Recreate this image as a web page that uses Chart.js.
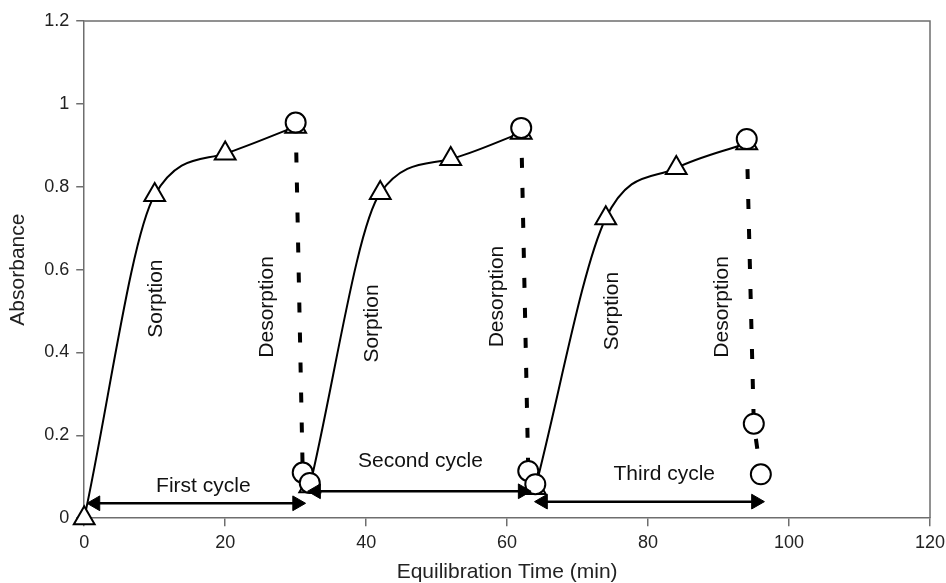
<!DOCTYPE html>
<html>
<head>
<meta charset="utf-8">
<script src="https://cdn.jsdelivr.net/npm/chart.js@4/dist/chart.umd.min.js"></script>
<style>
  html, body { margin: 0; padding: 0; background: #fff; }
  #wrap { width: 946px; height: 583px; }
</style>
</head>
<body>
<div id="wrap"><canvas id="chart"></canvas></div>
<script>
// sorption runs (triangles, smooth line)
const sorption1X = [0, 10, 20, 30];
const sorption1Y = [0, 0.78, 0.88, 0.945];
const sorption2X = [32, 42, 52, 62];
const sorption2Y = [0.077, 0.785, 0.867, 0.93];
const sorption3X = [64, 74, 84, 94];
const sorption3Y = [0.073, 0.724, 0.845, 0.905];

// desorption runs (circles, dashed line)
const desorption1X = [30, 31, 32];
const desorption1Y = [0.955, 0.11, 0.085];
const desorption2X = [62, 63, 64];
const desorption2Y = [0.942, 0.114, 0.082];
const desorption3X = [94, 95, 96];
const desorption3Y = [0.915, 0.228, 0.106];

// cycle arrows (arrow head centres)
const arrowFrom = [1.6, 32.9, 65.1];
const arrowTo = [30.2, 62.2, 95.3];
const arrowLevel = [0.036, 0.065, 0.04];

// annotations
const noteText = ["Sorption", "Desorption", "Sorption", "Desorption", "Sorption", "Desorption",
  "First cycle", "Second cycle", "Third cycle"];
const noteX = [10.2, 26, 40.9, 58.6, 74.9, 90.5, 16.9, 47.7, 82.3];
const noteY = [0.53, 0.51, 0.47, 0.535, 0.5, 0.51, 0.077, 0.138, 0.106];
const noteVertical = [true, true, true, true, true, true, false, false, false];

const xTicks = [0, 20, 40, 60, 80, 100, 120];
const yTicks = [0, 0.2, 0.4, 0.6, 0.8, 1, 1.2];

const FONT = "'Liberation Sans', Arial, sans-serif";

function pts(xs, ys) {
  return xs.map((x, i) => ({ x: x, y: ys[i] }));
}

function sorption(xs, ys) {
  return {
    data: pts(xs, ys),
    borderColor: "#000",
    borderWidth: 2,
    cubicInterpolationMode: "monotone",
    pointStyle: "triangle",
    pointRadius: 12,
    pointBorderWidth: 2,
    pointBackgroundColor: "#fff",
    pointBorderColor: "#000",
    clip: false,
  };
}

function desorption(xs, ys) {
  return {
    data: pts(xs, ys),
    borderColor: "#000",
    borderWidth: 4,
    borderDash: [10, 20],
    tension: 0,
    pointStyle: "circle",
    pointRadius: 10,
    pointBorderWidth: 2,
    pointBackgroundColor: "#fff",
    pointBorderColor: "#000",
    clip: false,
  };
}

function arrow(i) {
  return {
    data: [{ x: arrowFrom[i], y: arrowLevel[i] }, { x: arrowTo[i], y: arrowLevel[i] }],
    borderColor: "#000",
    borderWidth: 2.5,
    pointStyle: "triangle",
    pointRotation: [270, 90],
    pointRadius: 8.5,
    pointBorderWidth: 1,
    pointBackgroundColor: "#000",
    pointBorderColor: "#000",
    clip: false,
  };
}

const framePlugin = {
  id: "frame",
  beforeDatasetsDraw(chart) {
    const { ctx, chartArea: a } = chart;
    ctx.save();
    ctx.strokeStyle = "#6e6e6e";
    ctx.lineWidth = 1.5;
    ctx.beginPath();
    ctx.moveTo(a.left, a.top);
    ctx.lineTo(a.right, a.top);
    ctx.lineTo(a.right, a.bottom);
    ctx.stroke();
    ctx.restore();
  },
  afterDatasetsDraw(chart) {
    const { ctx, scales } = chart;
    ctx.save();
    ctx.fillStyle = "#111";
    ctx.font = "21px " + FONT;
    ctx.textAlign = "center";
    ctx.textBaseline = "middle";
    noteText.forEach((t, i) => {
      const px = scales.x.getPixelForValue(noteX[i]);
      const py = scales.y.getPixelForValue(noteY[i]);
      ctx.save();
      ctx.translate(px, py);
      if (noteVertical[i]) ctx.rotate(-Math.PI / 2);
      ctx.fillText(t, 0, 0);
      ctx.restore();
    });
    ctx.restore();
  },
};

new Chart(document.getElementById("chart"), {
  type: "scatter",
  data: {
    datasets: [
      arrow(0), arrow(1), arrow(2),
      desorption(desorption1X, desorption1Y),
      desorption(desorption2X, desorption2Y),
      desorption(desorption3X, desorption3Y),
      sorption(sorption1X, sorption1Y),
      sorption(sorption2X, sorption2Y),
      sorption(sorption3X, sorption3Y),
    ].map((d) => Object.assign(d, { showLine: true })),
  },
  options: {
    responsive: true,
    maintainAspectRatio: false,
    animation: false,
    layout: { padding: { top: 21, right: 16, left: 2, bottom: -2 } },
    plugins: {
      legend: { display: false },
      tooltip: { enabled: false },
    },
    scales: {
      x: {
        type: "linear",
        min: 0,
        max: 120,
        afterBuildTicks: (s) => { s.ticks = xTicks.map((v) => ({ value: v })); },
        afterFit: (s) => { s.paddingRight = 0; },
        grid: { drawOnChartArea: false, color: "#6e6e6e", tickLength: 8, lineWidth: 1.5 },
        border: { color: "#6e6e6e", width: 1.5 },
        ticks: { color: "#222", font: { family: FONT, size: 18 }, padding: 6, maxRotation: 0 },
        title: {
          display: true,
          text: "Equilibration Time (min)",
          color: "#222",
          font: { family: FONT, size: 21 },
          padding: { top: 0, bottom: 0 },
        },
      },
      y: {
        type: "linear",
        min: 0,
        max: 1.2,
        afterBuildTicks: (s) => { s.ticks = yTicks.map((v) => ({ value: v })); },
        grid: { drawOnChartArea: false, color: "#6e6e6e", tickLength: 8, lineWidth: 1.5 },
        border: { color: "#6e6e6e", width: 1.5 },
        ticks: {
          color: "#222",
          font: { family: FONT, size: 18 },
          padding: 7,
          callback: (v) => String(+v.toFixed(1)),
        },
        title: {
          display: true,
          text: "Absorbance",
          color: "#222",
          font: { family: FONT, size: 21 },
          padding: { top: 4, bottom: 6 },
        },
      },
    },
  },
  plugins: [framePlugin],
});
</script>
</body>
</html>
